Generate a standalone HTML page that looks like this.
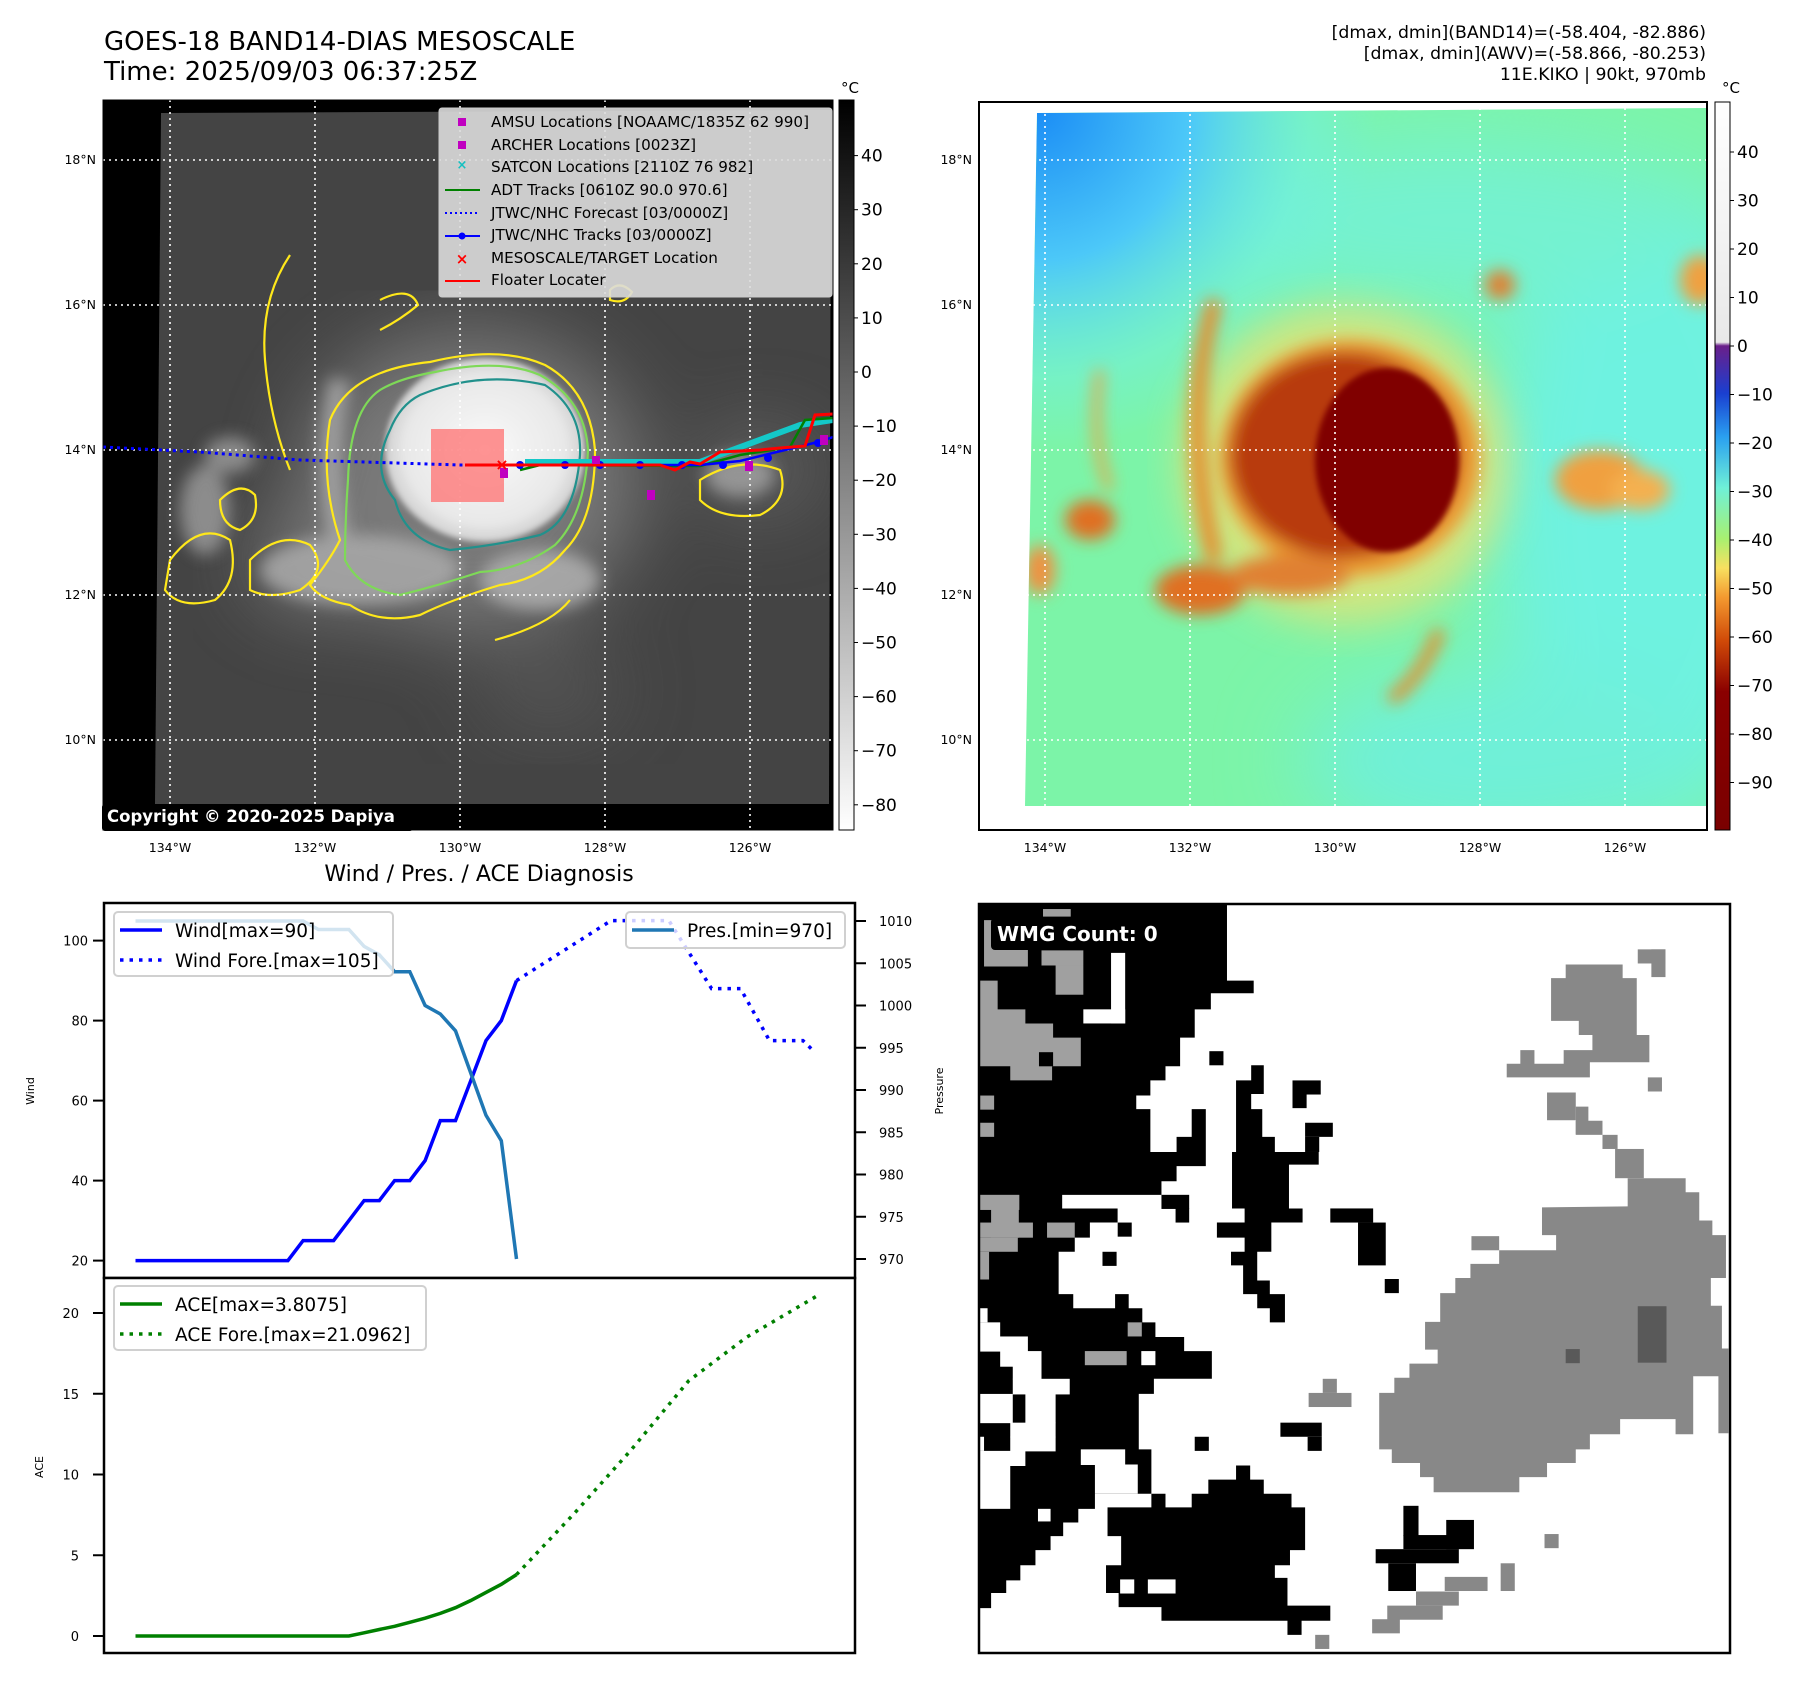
<!DOCTYPE html>
<html><head><meta charset="utf-8">
<style>
html,body{margin:0;padding:0;background:#fff;}
svg{display:block;font-family:"DejaVu Sans","Liberation Sans",sans-serif;}
</style></head>
<body>
<svg id="root" width="1797" height="1690" viewBox="0 0 1797 1690" xmlns="http://www.w3.org/2000/svg">
<defs>
  <filter id="b3"><feGaussianBlur stdDeviation="3"/></filter>
  <filter id="b8"><feGaussianBlur stdDeviation="8"/></filter>
  <filter id="b20"><feGaussianBlur stdDeviation="20"/></filter>
  <filter id="b40"><feGaussianBlur stdDeviation="40"/></filter>
  <linearGradient id="cbGray" x1="0" y1="0" x2="0" y2="1">
    <stop offset="0" stop-color="#000"/><stop offset="1" stop-color="#fff"/>
  </linearGradient>
  <linearGradient id="cbJet" x1="0" y1="0" x2="0" y2="1">
    <stop offset="0" stop-color="#ffffff"/>
    <stop offset="0.33" stop-color="#e8e8e8"/>
    <stop offset="0.335" stop-color="#6a1f8a"/>
    <stop offset="0.40" stop-color="#1a3fd0"/>
    <stop offset="0.46" stop-color="#2aa0f0"/>
    <stop offset="0.53" stop-color="#6ff0d8"/>
    <stop offset="0.60" stop-color="#a8f070"/>
    <stop offset="0.64" stop-color="#f8e060"/>
    <stop offset="0.68" stop-color="#f49a30"/>
    <stop offset="0.74" stop-color="#d04a08"/>
    <stop offset="0.81" stop-color="#8a0000"/>
    <stop offset="1" stop-color="#7a0000"/>
  </linearGradient>
  <radialGradient id="blueCorner" cx="1037" cy="108" r="340" gradientUnits="userSpaceOnUse">
    <stop offset="0" stop-color="#1a8cf5"/><stop offset="0.45" stop-color="#4cc8f8"/><stop offset="0.8" stop-color="#70f0e0" stop-opacity="0.5"/><stop offset="1" stop-color="#70f0e0" stop-opacity="0"/>
  </radialGradient>
  <radialGradient id="core" cx="0.5" cy="0.5" r="0.5">
    <stop offset="0" stop-color="#fafafa"/><stop offset="0.8" stop-color="#e8e8e8"/><stop offset="1" stop-color="#d0d0d0"/>
  </radialGradient>
</defs>

<text x="104" y="50" font-size="26">GOES-18 BAND14-DIAS MESOSCALE</text>
<text x="104" y="80" font-size="26">Time: 2025/09/03 06:37:25Z</text>
<g font-size="17.3" text-anchor="end">
  <text x="1706" y="38">[dmax, dmin](BAND14)=(-58.404, -82.886)</text>
  <text x="1706" y="59">[dmax, dmin](AWV)=(-58.866, -80.253)</text>
  <text x="1706" y="80">11E.KIKO | 90kt, 970mb</text>
</g>

<!-- LEFT MAP -->
<g>
  <clipPath id="clipL"><rect x="103" y="100" width="730" height="730"/></clipPath>
  <clipPath id="clipLD"><polygon points="161,113 831,110 829,804 155,804"/></clipPath>
  <rect x="103" y="100" width="730" height="730" fill="#000"/>
  <g clip-path="url(#clipL)">
    <polygon points="161,113 831,110 829,804 155,804" fill="#444"/>
    <g clip-path="url(#clipLD)">
    <g filter="url(#b40)" opacity="0.75">
      <ellipse cx="470" cy="480" rx="170" ry="150" fill="#8c8c8c"/>
      <ellipse cx="330" cy="560" rx="80" ry="50" fill="#8a8a8a"/>
      <ellipse cx="760" cy="470" rx="60" ry="40" fill="#707070"/>
      <ellipse cx="550" cy="690" rx="70" ry="35" fill="#5e5e5e"/>
    </g>
    <g filter="url(#b8)" opacity="0.85">
      <path d="M340,380 Q320,470 345,560" stroke="#a8a8a8" stroke-width="22" fill="none"/>
      <ellipse cx="360" cy="570" rx="100" ry="35" fill="#aaaaaa"/>
      <ellipse cx="540" cy="580" rx="60" ry="30" fill="#b0b0b0"/>
      <ellipse cx="205" cy="510" rx="25" ry="45" fill="#999"/>
      <ellipse cx="230" cy="455" rx="25" ry="18" fill="#999"/>
      <ellipse cx="740" cy="475" rx="35" ry="22" fill="#a0a0a0"/>
    </g>
    </g>
    <ellipse cx="485" cy="450" rx="100" ry="92" fill="url(#core)" filter="url(#b3)"/>
    <g fill="none" stroke-width="2.2">
      <path d="M430,362 Q500,345 545,365 Q590,390 595,450 Q595,520 565,550 Q540,580 500,585 Q450,600 420,615 Q380,625 350,605 Q320,600 310,585 Q330,560 340,540 Q320,480 330,420 Q350,370 430,362 Z" stroke="#ffe81a"/>
      <path d="M435,372 Q500,358 540,375 Q585,400 588,450 Q585,515 555,545 Q520,570 480,572 Q440,585 400,595 Q360,590 345,560 Q345,520 348,480 Q350,410 380,390 Q400,378 435,372 Z" stroke="#7ed957"/>
      <path d="M420,395 Q480,370 545,385 Q582,410 580,455 Q575,520 540,535 Q500,545 450,550 Q405,540 395,500 Q370,470 390,430 Q400,405 420,395 Z" stroke="#21918c"/>
      <path d="M290,255 Q260,300 265,360 Q270,420 290,470" stroke="#ffe81a"/>
      <path d="M250,560 Q280,530 310,545 Q330,570 300,590 Q270,600 250,590 Z" stroke="#ffe81a"/>
      <path d="M170,560 Q200,520 230,540 Q240,580 215,600 Q180,610 165,590 Z" stroke="#ffe81a"/>
      <path d="M220,500 Q240,480 255,495 Q260,520 240,530 Q220,525 220,500 Z" stroke="#ffe81a"/>
      <path d="M380,300 Q410,285 418,305 Q400,320 380,330" stroke="#ffe81a"/>
      <path d="M495,640 Q550,625 570,600" stroke="#ffe81a"/>
      <path d="M700,480 Q740,455 780,470 Q790,500 760,515 Q720,520 700,500 Z" stroke="#ffe81a"/>
      <path d="M610,290 Q620,280 632,292 Q625,305 610,300 Z" stroke="#ffe81a"/>
    </g>
    <g stroke="#fff" stroke-width="1.6" stroke-dasharray="2,4">
      <line x1="170" y1="100" x2="170" y2="830"/><line x1="315" y1="100" x2="315" y2="830"/><line x1="460" y1="100" x2="460" y2="830"/><line x1="605" y1="100" x2="605" y2="830"/><line x1="750" y1="100" x2="750" y2="830"/>
      <line x1="103" y1="160" x2="833" y2="160"/><line x1="103" y1="305" x2="833" y2="305"/><line x1="103" y1="450" x2="833" y2="450"/><line x1="103" y1="595" x2="833" y2="595"/><line x1="103" y1="740" x2="833" y2="740"/>
    </g>
    <rect x="431" y="429" width="73" height="73" fill="#ff7070" opacity="0.75"/>
    <polyline points="103,447 200,452 300,460 460,465 520,465" fill="none" stroke="#0000ff" stroke-width="3" stroke-dasharray="3,4"/>
    <polyline points="525,462 700,462 800,425 833,420" fill="none" stroke="#14c8c8" stroke-width="6"/>
    <polyline points="520,470 540,465 700,466 740,455 790,447 805,420 833,418" fill="none" stroke="#008000" stroke-width="2.5"/>
    <polyline points="500,465 560,465 640,465 700,465 740,461 818,442 833,437" fill="none" stroke="#0000ff" stroke-width="2.5"/>
    <g fill="#0000ff"><circle cx="520" cy="465" r="4"/><circle cx="565" cy="465" r="4"/><circle cx="600" cy="465" r="4"/><circle cx="640" cy="465" r="4"/><circle cx="682" cy="465" r="4"/><circle cx="723" cy="465" r="4"/><circle cx="768" cy="458" r="4"/><circle cx="818" cy="443" r="4"/></g>
    <polyline points="465,465 660,465 675,470 690,462 700,464 720,452 760,450 780,448 805,446 815,415 833,414" fill="none" stroke="#ff0000" stroke-width="3"/>
    <g fill="#c000c0"><rect x="500" y="468" width="8" height="10"/><rect x="647" y="490" width="8" height="10"/><rect x="745" y="461" width="8" height="10"/><rect x="820" y="435" width="8" height="10"/><rect x="592" y="456" width="8" height="8"/></g>
    <text x="502" y="470" font-size="16" fill="#ff0000" font-weight="bold" text-anchor="middle">×</text>
  </g>
  <g>
    <rect x="439" y="108" width="393" height="189" rx="3" fill="#dcdcdc" fill-opacity="0.9" stroke="#ccc"/>
    <g font-size="15.2" fill="#000">
      <text x="491" y="127">AMSU Locations [NOAAMC/1835Z 62 990]</text>
      <text x="491" y="150">ARCHER Locations [0023Z]</text>
      <text x="491" y="172">SATCON Locations [2110Z 76 982]</text>
      <text x="491" y="195">ADT Tracks [0610Z 90.0 970.6]</text>
      <text x="491" y="218">JTWC/NHC Forecast [03/0000Z]</text>
      <text x="491" y="240">JTWC/NHC Tracks [03/0000Z]</text>
      <text x="491" y="263">MESOSCALE/TARGET Location</text>
      <text x="491" y="285">Floater Locater</text>
    </g>
    <rect x="458" y="118" width="8" height="8" fill="#c000c0"/>
    <rect x="458" y="141" width="8" height="8" fill="#c000c0"/>
    <text x="462" y="169" font-size="13" fill="#14c0c0" text-anchor="middle" font-weight="bold">×</text>
    <line x1="445" y1="190" x2="480" y2="190" stroke="#008000" stroke-width="2"/>
    <line x1="445" y1="213" x2="480" y2="213" stroke="#0000ff" stroke-width="2" stroke-dasharray="2,3"/>
    <line x1="445" y1="236" x2="480" y2="236" stroke="#0000ff" stroke-width="2"/><circle cx="462" cy="236" r="3.5" fill="#0000ff"/>
    <text x="462" y="264" font-size="15" fill="#ff0000" text-anchor="middle" font-weight="bold">×</text>
    <line x1="445" y1="281" x2="480" y2="281" stroke="#ff0000" stroke-width="2"/>
  </g>
  <rect x="102" y="804" width="311" height="27" rx="3" fill="#000"/>
  <text x="107" y="822" font-size="16.5" font-weight="bold" fill="#fff">Copyright © 2020-2025 Dapiya</text>
  <rect x="103" y="100" width="730" height="730" fill="none" stroke="#000" stroke-width="1"/>
</g>
<g font-size="12.5" text-anchor="end">
  <text x="96" y="164">18°N</text><text x="96" y="309">16°N</text><text x="96" y="454">14°N</text><text x="96" y="599">12°N</text><text x="96" y="744">10°N</text>
</g>
<g font-size="12.5" text-anchor="middle">
  <text x="170" y="852">134°W</text><text x="315" y="852">132°W</text><text x="460" y="852">130°W</text><text x="605" y="852">128°W</text><text x="750" y="852">126°W</text>
</g>
<g>
  <text x="850" y="93" font-size="15" text-anchor="middle">°C</text>
  <rect x="839" y="100" width="15" height="730" fill="url(#cbGray)" stroke="#000" stroke-width="1"/>
  <g id="cbL" font-size="17"></g>
</g>

<!-- RIGHT MAP -->
<g>
  <clipPath id="clipR"><rect x="979" y="102" width="728" height="728"/></clipPath>
  <clipPath id="clipRD"><polygon points="1037,113 1707,108 1707,806 1025,806"/></clipPath>
  <g clip-path="url(#clipR)">
    <polygon points="1037,113 1707,108 1707,806 1025,806" fill="#7cf4a8"/>
    <g clip-path="url(#clipRD)">
    <g filter="url(#b40)">
      <ellipse cx="1650" cy="500" rx="160" ry="330" fill="#6ef2e0"/>
      <ellipse cx="1500" cy="760" rx="200" ry="90" fill="#70f0d8"/>
      <ellipse cx="1450" cy="220" rx="260" ry="80" fill="#74f2d0"/>
    </g>
    <polygon points="1037,113 1707,108 1707,806 1025,806" fill="url(#blueCorner)"/>
    <g filter="url(#b20)" opacity="0.7">
      <ellipse cx="1345" cy="465" rx="165" ry="160" fill="#f4e070"/>
    </g>
    <g filter="url(#b8)">
      <ellipse cx="1350" cy="458" rx="130" ry="118" fill="#ec9a30"/>
      <ellipse cx="1345" cy="455" rx="115" ry="103" fill="#b83a08"/>
      <path d="M1215,300 Q1180,420 1215,560" stroke="#e88a2a" stroke-width="16" fill="none"/>
      <path d="M1100,370 Q1090,440 1110,490" stroke="#f0a040" stroke-width="8" fill="none"/>
      <ellipse cx="1200" cy="590" rx="45" ry="25" fill="#e07020"/>
      <ellipse cx="1290" cy="575" rx="60" ry="20" fill="#e08030"/>
      <ellipse cx="1090" cy="520" rx="25" ry="20" fill="#e07020"/>
      <ellipse cx="1040" cy="570" rx="15" ry="25" fill="#f09040"/>
      <ellipse cx="1600" cy="480" rx="45" ry="30" fill="#f0a040"/>
      <ellipse cx="1640" cy="490" rx="30" ry="20" fill="#f4b050"/>
      <path d="M1440,630 Q1420,680 1390,700" stroke="#e88a2a" stroke-width="12" fill="none"/>
      <ellipse cx="1500" cy="285" rx="15" ry="15" fill="#e08030"/>
      <ellipse cx="1700" cy="280" rx="20" ry="25" fill="#f0a040"/>
    </g>
    </g>
    <ellipse cx="1387" cy="460" rx="72" ry="92" fill="#800000" filter="url(#b3)"/>
    <g stroke="#fff" stroke-width="1.6" stroke-dasharray="2,4">
      <line x1="1045" y1="102" x2="1045" y2="830"/><line x1="1190" y1="102" x2="1190" y2="830"/><line x1="1335" y1="102" x2="1335" y2="830"/><line x1="1480" y1="102" x2="1480" y2="830"/><line x1="1625" y1="102" x2="1625" y2="830"/>
      <line x1="979" y1="160" x2="1707" y2="160"/><line x1="979" y1="305" x2="1707" y2="305"/><line x1="979" y1="450" x2="1707" y2="450"/><line x1="979" y1="595" x2="1707" y2="595"/><line x1="979" y1="740" x2="1707" y2="740"/>
    </g>
  </g>
  <rect x="979" y="102" width="728" height="728" fill="none" stroke="#000" stroke-width="2"/>
</g>
<g font-size="12.5" text-anchor="end">
  <text x="972" y="164">18°N</text><text x="972" y="309">16°N</text><text x="972" y="454">14°N</text><text x="972" y="599">12°N</text><text x="972" y="744">10°N</text>
</g>
<g font-size="12.5" text-anchor="middle">
  <text x="1045" y="852">134°W</text><text x="1190" y="852">132°W</text><text x="1335" y="852">130°W</text><text x="1480" y="852">128°W</text><text x="1625" y="852">126°W</text>
</g>
<g>
  <text x="1731" y="93" font-size="15" text-anchor="middle">°C</text>
  <rect x="1715" y="102" width="15" height="728" fill="url(#cbJet)" stroke="#000" stroke-width="1"/>
  <g id="cbR" font-size="17"></g>
</g>

<text x="479" y="881" font-size="22" text-anchor="middle">Wind / Pres. / ACE Diagnosis</text>
<g id="chart"></g>

<g>
  <svg x="979" y="904" width="751" height="749" viewBox="38 28 1490 1486" preserveAspectRatio="none">
    <rect x="38" y="28" width="1490" height="1486" fill="#fff"/>
    <g fill="#000">
      <polygon points="40,30 530,30 530,180 583,180 583,205 498,205 498,237 466,237 466,293 437,293 437,350 408,350 408,378 378,378 378,408 350,408 350,435 378,435 378,520 430,520 430,490 460,490 460,435 488,435 488,548 430,548 430,578 400,578 400,605 203,605 203,632 313,632 313,660 258,660 258,690 228,690 228,718 196,718 196,802 225,802 225,830 308,830 308,802 335,802 335,830 362,830 362,858 388,858 388,887 445,887 445,915 500,915 500,970 385,970 385,1000 355,1000 355,1110 380,1110 380,1198 268,1198 268,1228 235,1228 235,1255 205,1255 205,1282 180,1282 180,1310 150,1310 150,1340 120,1340 120,1370 92,1370 92,1395 62,1395 62,1425 40,1425"/>
      <polygon points="493,1170 548,1170 548,1142 576,1142 576,1170 603,1170 603,1198 658,1198 658,1225 685,1225 685,1310 655,1310 655,1340 625,1340 625,1365 650,1365 650,1420 735,1420 735,1450 678,1450 678,1478 650,1478 650,1450 400,1450 400,1423 315,1423 315,1395 290,1395 290,1340 320,1340 320,1282 293,1282 293,1225 380,1225 380,1198 408,1198 408,1225 460,1225 460,1198 493,1198"/>
      <polygon points="548,378 578,378 578,348 603,348 603,405 578,405 578,435 600,435 600,490 625,490 625,520 712,520 712,545 653,545 653,632 680,632 680,660 618,660 618,718 590,718 590,775 615,775 615,802 645,802 645,858 615,858 615,830 590,830 590,802 562,802 562,745 538,745 538,718 565,718 565,690 510,690 510,660 565,660 565,632 540,632 540,520 548,520"/>
      <rect x="495" y="320" width="28" height="28"/><rect x="660" y="378" width="56" height="28"/><rect x="660" y="405" width="28" height="28"/>
      <rect x="685" y="462" width="55" height="28"/><rect x="685" y="490" width="28" height="30"/>
      <rect x="735" y="632" width="85" height="28"/><rect x="790" y="660" width="55" height="85"/><rect x="843" y="772" width="28" height="28"/>
      <rect x="636" y="1057" width="82" height="28"/><rect x="690" y="1085" width="28" height="28"/><rect x="466" y="1085" width="28" height="28"/>
      <rect x="880" y="1222" width="30" height="60"/><rect x="965" y="1250" width="55" height="58"/><rect x="880" y="1280" width="110" height="28"/>
      <rect x="825" y="1308" width="165" height="28"/><rect x="850" y="1336" width="55" height="55"/>
      <rect x="400" y="605" width="55" height="28"/><rect x="428" y="632" width="27" height="28"/><rect x="313" y="660" width="28" height="28"/><rect x="283" y="718" width="28" height="28"/>
    </g>
    <g fill="#fff">
      <rect x="300" y="125" width="28" height="140"/><rect x="245" y="237" width="83" height="28"/>
      <rect x="40" y="830" width="15" height="28"/><rect x="40" y="858" width="40" height="29"/><rect x="40" y="886" width="95" height="30"/><rect x="80" y="915" width="82" height="31"/>
      <rect x="105" y="945" width="57" height="26"/><rect x="105" y="970" width="113" height="31"/><rect x="40" y="1000" width="65" height="58"/><rect x="130" y="1000" width="60" height="58"/>
      <rect x="100" y="1057" width="90" height="29"/><rect x="40" y="1085" width="8" height="28"/><rect x="100" y="1085" width="90" height="29"/>
      <rect x="40" y="1113" width="90" height="30"/><rect x="40" y="1140" width="60" height="88"/><rect x="240" y="1110" width="88" height="31"/><rect x="268" y="1140" width="85" height="58"/>
      <rect x="155" y="1228" width="25" height="25"/><rect x="360" y="915" width="28" height="28"/><rect x="286" y="660" width="27" height="30"/>
      <rect x="318" y="1368" width="28" height="28"/><rect x="373" y="1368" width="55" height="28"/><rect x="1183" y="713" width="28" height="28"/>
    </g>
    <g fill="#a0a0a0">
      <rect x="165" y="38" width="55" height="15"/><rect x="48" y="60" width="87" height="92"/><rect x="162" y="120" width="83" height="30"/><rect x="190" y="150" width="55" height="58"/>
      <polygon points="40,180 75,180 75,237 130,237 130,265 185,265 185,293 240,293 240,350 183,350 183,378 100,378 100,350 40,350"/>
      <rect x="40" y="408" width="28" height="28"/><rect x="40" y="462" width="28" height="28"/>
      <rect x="40" y="605" width="78" height="30"/><rect x="62" y="632" width="55" height="58"/><rect x="40" y="660" width="105" height="30"/><rect x="40" y="690" width="75" height="28"/><rect x="40" y="718" width="18" height="55"/>
      <rect x="173" y="660" width="55" height="30"/><rect x="333" y="858" width="28" height="28"/><rect x="248" y="915" width="83" height="28"/>
    </g>
    <rect x="157" y="322" width="28" height="28" fill="#000"/>
    <g fill="#888">
      <polygon points="1155,630 1325,628 1325,572 1440,572 1440,600 1467,600 1467,656 1493,656 1493,685 1520,685 1520,770 1490,770 1490,825 1512,825 1512,910 1525,910 1525,1078 1505,1078 1505,965 1455,965 1455,1080 1420,1080 1420,1050 1310,1050 1310,1080 1250,1080 1250,1110 1222,1110 1222,1137 1165,1137 1165,1165 1110,1165 1110,1195 940,1195 940,1165 913,1165 913,1137 857,1137 857,1110 832,1110 832,998 862,998 862,968 892,968 892,940 948,940 948,912 923,912 923,857 953,857 953,800 983,800 983,770 1013,770 1013,742 1070,742 1070,715 1183,715 1183,685 1155,685"/>
      <polygon points="1202,148 1315,148 1315,175 1343,175 1343,288 1368,288 1368,342 1250,342 1250,372 1085,372 1085,345 1112,345 1112,318 1140,318 1140,345 1198,345 1198,318 1255,318 1255,288 1228,288 1228,260 1173,260 1173,175 1202,175"/>
      <rect x="1345" y="118" width="55" height="28"/><rect x="1372" y="118" width="28" height="55"/><rect x="1365" y="372" width="28" height="28"/>
      <rect x="1165" y="402" width="57" height="55"/><rect x="1222" y="430" width="25" height="55"/><rect x="1222" y="458" width="53" height="28"/><rect x="1275" y="486" width="30" height="28"/><rect x="1300" y="514" width="57" height="58"/>
      <rect x="692" y="998" width="85" height="28"/><rect x="720" y="970" width="28" height="28"/><rect x="1015" y="687" width="55" height="28"/>
      <rect x="1160" y="1278" width="28" height="28"/><rect x="1073" y="1336" width="28" height="55"/><rect x="962" y="1363" width="85" height="28"/><rect x="905" y="1392" width="85" height="28"/><rect x="848" y="1420" width="110" height="28"/><rect x="818" y="1447" width="55" height="28"/><rect x="705" y="1478" width="28" height="28"/>
    </g>
    <g fill="#595959"><rect x="1345" y="826" width="57" height="112"/><rect x="1202" y="911" width="28" height="28"/></g>
  </svg>
  <rect x="991" y="918" width="94" height="32" rx="4" fill="#000"/>
  <text x="997" y="941" font-size="20" font-weight="bold" fill="#fff">WMG Count: 0</text>
  <rect x="979" y="904" width="751" height="749" fill="none" stroke="#000" stroke-width="2.5"/>
</g>

<script>
var windIdx = [0,1,2,3,4,5,6,7,8,9,10,11,12,13,14,15,16,17,18,19,20,21,22,23,24,25];
var windObs = [20,20,20,20,20,20,20,20,20,20,20,25,25,25,30,35,35,40,40,45,55,55,65,75,80,90];
var presObs = [1010,1010,1010,1010,1010,1010,1010,1010,1010,1010,1010,1010,1009,1009,1009,1007,1006,1004,1004,1000,999,997,992,987,984,970];
var aceObs = [0,0,0,0,0,0,0,0,0,0,0,0,0,0,0,0.2,0.4,0.6,0.85,1.1,1.4,1.75,2.2,2.7,3.2,3.8];
var windForeIdx = [25,31.2,35,37.8,39.7,41.6,43.8,44.6];
var windFore = [90,105,105,88,88,75,75,72];
var aceForeIdx = [25,28.8,32.5,36.3,40.1,44.8];
var aceFore = [3.8,7.6,11.5,15.8,18.5,21.1];
var windTicks = [20,40,60,80,100];
var presTicks = [970,975,980,985,990,995,1000,1005,1010];
var aceTicks = [0,5,10,15,20];
var cbLTicks = [40,30,20,10,0,-10,-20,-30,-40,-50,-60,-70,-80];
var cbRTicks = [40,30,20,10,0,-10,-20,-30,-40,-50,-60,-70,-80,-90];

var NS = "http://www.w3.org/2000/svg";
function mk(tag, attrs, parent, txt){
  var e = document.createElementNS(NS, tag);
  for (var k in attrs) e.setAttribute(k, attrs[k]);
  if (txt !== undefined) e.textContent = txt;
  parent.appendChild(e); return e;
}
function xOf(i){ return 135.5 + i*15.24; }
function yWind(w){ return 1260.6 - (w-20)*4.0; }
function yPres(p){ return 1259 - (p-970)*8.45; }
function yAce(a){ return 1636 - a*16.15; }
function yCbL(v){ return 155.6 + (40-v)*5.41; }
function yCbR(v){ return 152 + (40-v)*4.85; }

var gL = document.getElementById('cbL');
cbLTicks.forEach(function(v){
  var y = yCbL(v);
  mk('line',{x1:854,y1:y,x2:858,y2:y,stroke:'#000'},gL);
  var t = mk('text',{x:861,y:y+6},gL,(v<0?'\u2212'+(-v):String(v)));
  
  
});
var gR = document.getElementById('cbR');
cbRTicks.forEach(function(v){
  var y = yCbR(v);
  mk('line',{x1:1730,y1:y,x2:1734,y2:y,stroke:'#000'},gR);
  var t = mk('text',{x:1737,y:y+6},gR,(v<0?'\u2212'+(-v):String(v)));
  
  
});

var ch = document.getElementById('chart');
mk('rect',{x:104,y:903,width:751,height:375,fill:'#fff',stroke:'#000','stroke-width':2.5},ch);
mk('rect',{x:104,y:1278,width:751,height:375,fill:'#fff',stroke:'#000','stroke-width':2.5},ch);

windTicks.forEach(function(v){
  var y=yWind(v);
  mk('line',{x1:93,y1:y,x2:104,y2:y,stroke:'#000','stroke-width':2},ch);
  var t=mk('text',{x:88,y:y+5,'font-size':13,'text-anchor':'end'},ch,String(v));
  
  
});
presTicks.forEach(function(v){
  var y=yPres(v);
  mk('line',{x1:855,y1:y,x2:866,y2:y,stroke:'#000','stroke-width':2},ch);
  var t=mk('text',{x:879,y:y+5,'font-size':13},ch,String(v));
  
  
});
aceTicks.forEach(function(v){
  var y=yAce(v);
  mk('line',{x1:93,y1:y,x2:104,y2:y,stroke:'#000','stroke-width':2},ch);
  var t=mk('text',{x:79,y:y+5,'font-size':13,'text-anchor':'end'},ch,String(v));
  
  
});
var al=mk('text',{x:0,y:0,'font-size':11,'text-anchor':'middle',transform:'translate(34,1091) rotate(-90)'},ch,'Wind');


var al2=mk('text',{x:0,y:0,'font-size':11,'text-anchor':'middle',transform:'translate(943,1091) rotate(-90)'},ch,'Pressure');


var al3=mk('text',{x:0,y:0,'font-size':11,'text-anchor':'middle',transform:'translate(43,1467) rotate(-90)'},ch,'ACE');



function pts(xs, ys, fy){ return xs.map(function(x,i){ return xOf(x).toFixed(1)+','+fy(ys[i]).toFixed(1); }).join(' '); }

var l;
l=mk('polyline',{points:pts(windIdx,windObs,yWind),fill:'none',stroke:'#0000ff','stroke-width':3.5},ch);


l=mk('polyline',{points:pts(windForeIdx,windFore,yWind),fill:'none',stroke:'#0000ff','stroke-width':3.5,'stroke-dasharray':'3.5,6'},ch);


l=mk('polyline',{points:pts(windIdx,presObs,yPres),fill:'none',stroke:'#1f77b4','stroke-width':3.5},ch);


l=mk('polyline',{points:pts(windIdx,aceObs,yAce),fill:'none',stroke:'#008000','stroke-width':3.5},ch);


l=mk('polyline',{points:pts(aceForeIdx,aceFore,yAce),fill:'none',stroke:'#008000','stroke-width':3.5,'stroke-dasharray':'3.5,6'},ch);



function legend(x,y,w,h,items,name){
  var g=mk('g',{},ch);
  
  
  mk('rect',{x:x,y:y,width:w,height:h,rx:4,fill:'#fff','fill-opacity':0.8,stroke:'#d0d0d0','stroke-width':2},g);
  items.forEach(function(it,i){
    var cy=y+18+i*30;
    var a={x1:x+6,y1:cy,x2:x+48,y2:cy,stroke:it.c,'stroke-width':3.5};
    if(it.d) a['stroke-dasharray']='3.5,6';
    mk('line',a,g);
    mk('text',{x:x+61,y:cy+7,'font-size':18.5},g,it.t);
  });
}
legend(114,912,279,64,[{c:'#0000ff',t:'Wind[max=90]'},{c:'#0000ff',t:'Wind Fore.[max=105]',d:1}],'wind-legend');
legend(626,912,219,36,[{c:'#1f77b4',t:'Pres.[min=970]'}],'pressure-legend');
legend(114,1286,312,64,[{c:'#008000',t:'ACE[max=3.8075]'},{c:'#008000',t:'ACE Fore.[max=21.0962]',d:1}],'ace-legend');
</script>
</svg>
</body></html>
